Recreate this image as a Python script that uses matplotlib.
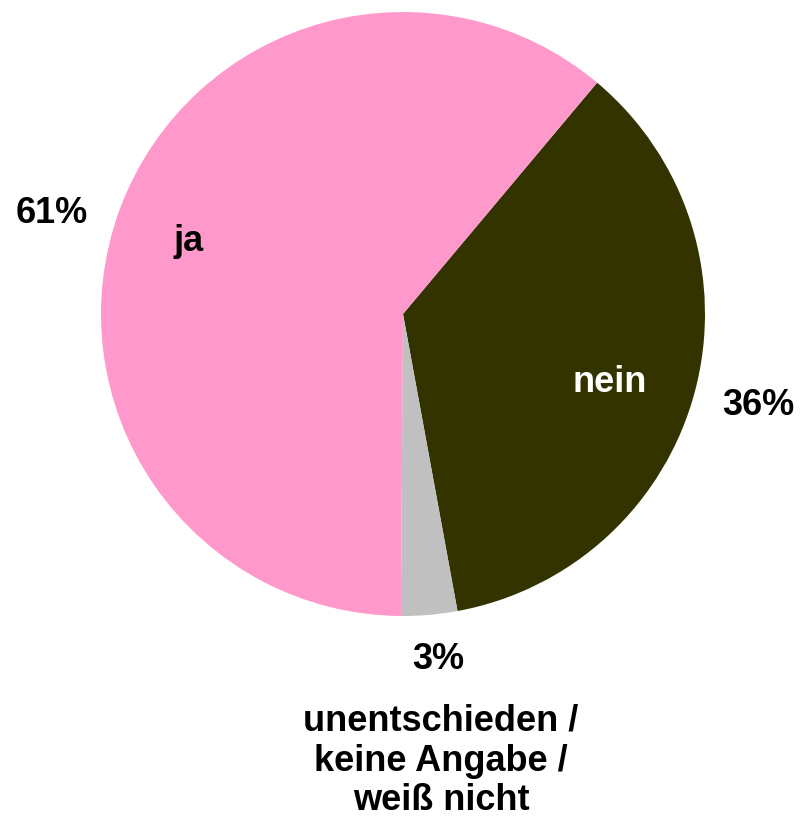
import matplotlib.pyplot as plt

# values
labels = ["nein", "unentschieden /\nkeine Angabe /\nweiß nicht", "ja"]
shares = [36, 3, 61]
pct_text = ["36%", "3%", "61%"]
colors = ["#333300", "#C0C0C0", "#FF99CC"]

W, H = 801, 822
fig = plt.figure(figsize=(W / 100, H / 100), dpi=100)
ax = fig.add_axes([0, 0, 1, 1])

ax.pie(shares, colors=colors, startangle=50, counterclock=False,
       center=(403, H - 314), radius=302, frame=True)
ax.set_xlim(0, W)
ax.set_ylim(0, H)
ax.set_aspect("equal")
ax.axis("off")

font = dict(family="Liberation Sans", weight="bold", size=26)

# percentages outside the pie
ax.text(52, H - 223, pct_text[2], ha="center", va="baseline", color="black", **font)
ax.text(758, H - 415, pct_text[0], ha="center", va="baseline", color="black", **font)
ax.text(438, H - 669, pct_text[1], ha="center", va="baseline", color="black", **font)

# category names
ax.text(189, H - 251, labels[2], ha="center", va="baseline", color="black", **font)
ax.text(610, H - 392, labels[0], ha="center", va="baseline", color="white", **font)
ax.text(441, H - 761, labels[1], ha="center", va="center", color="black",
        linespacing=1.17, **font)

fig.savefig("out.png", dpi=100)
